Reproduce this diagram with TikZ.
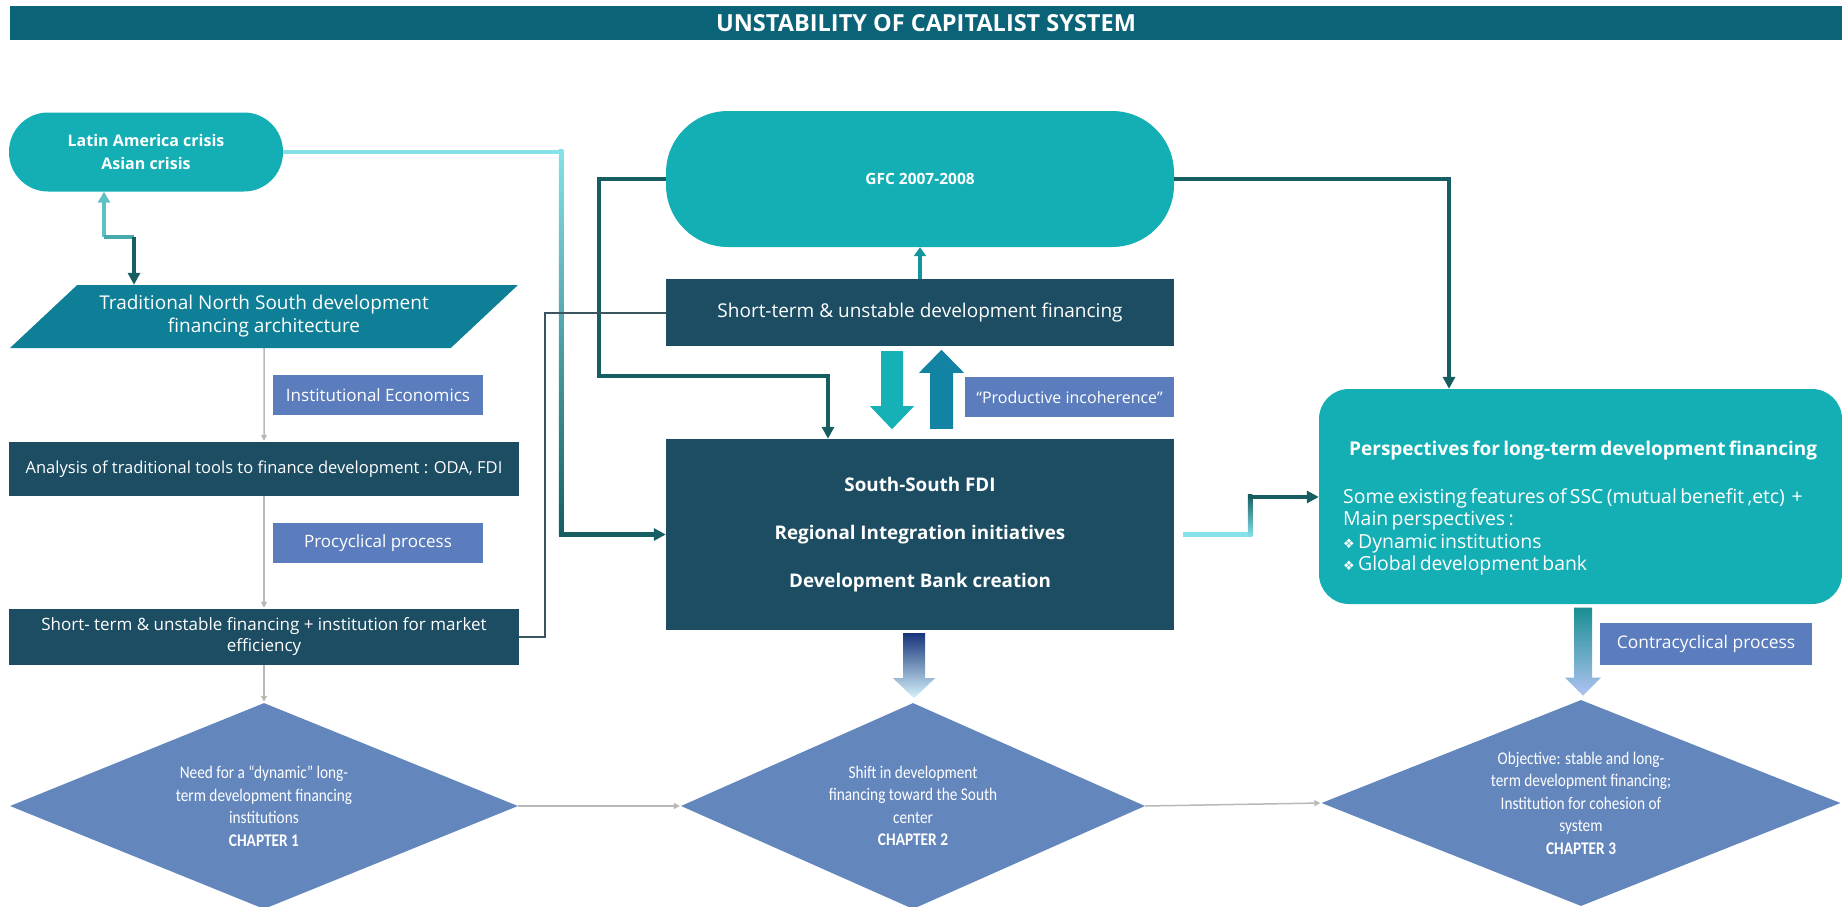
\documentclass[tikz,border=0pt]{standalone}
\usepackage{fontspec}
\setmainfont{Open Sans}
\newfontfamily\chapfont[FakeStretch=0.86]{Carlito}
\newfontfamily\bulletfont{DejaVu Sans}
\usetikzlibrary{calc,arrows.meta,positioning,shapes.geometric}

\definecolor{barteal}{HTML}{0B6377}
\definecolor{pillteal}{HTML}{14AFB5}
\definecolor{paradark}{HTML}{0F7E97}
\definecolor{navybox}{HTML}{1D4D63}
\definecolor{tagblue}{HTML}{5B7DBD}
\definecolor{chapblue}{HTML}{6386BD}
\definecolor{tealdark}{HTML}{175E63}
\definecolor{cyanlight}{HTML}{86E2E8}
\definecolor{cyanmid}{HTML}{45A9AE}
\definecolor{downcyan}{HTML}{15B1B7}
\definecolor{upblue}{HTML}{1283A2}
\definecolor{linegray}{HTML}{B8B8B8}
\definecolor{thingray}{HTML}{3A5560}
\definecolor{navygrad}{HTML}{17357A}
\definecolor{palegrad}{HTML}{D6F3FC}
\definecolor{tealgrad}{HTML}{1A8E93}
\definecolor{lilacgrad}{HTML}{AFC3F2}

\tikzset{
  pill/.style={fill=pillteal, text=white, align=center, inner sep=0pt, font=\fontsize{16}{23}\selectfont\bfseries},
  darkbox/.style={fill=navybox, text=white, align=center, inner sep=0pt, font=\fontsize{16.5}{21}\selectfont},
  tagbox/.style={fill=tagblue, text=white, align=center, inner sep=0pt, minimum width=210pt, minimum height=40pt, font=\fontsize{17}{20}\selectfont},
  chapter/.style={diamond, shape aspect=2.5, fill=chapblue, text=white, align=center, inner sep=0pt, minimum height=206pt, font=\chapfont\fontsize{17.8}{22.5}\selectfont},
  grayline/.style={draw=linegray, line width=1.5pt, shorten >=1pt, -{Triangle[length=6pt,width=6pt]}},
  darkline/.style={draw=tealdark, line width=4.5pt, -{Triangle[length=12pt,width=12pt]}},
  lightline/.style={draw=cyanlight, line width=4.5pt},
  thinline/.style={draw=thingray, line width=2pt},
}

\begin{document}
\begin{tikzpicture}[x=1pt,y=-1pt]
  \useasboundingbox (0,0) rectangle (1842,907);

  % Title
  \node[fill=barteal, minimum width=1832pt, minimum height=34pt, inner sep=0pt, text=white, font=\fontsize{23.5}{26}\selectfont\bfseries] (title) at (926,23) {UNSTABILITY OF CAPITALIST SYSTEM};

  % Left column
  \node[pill, minimum width=274pt, minimum height=79pt, rounded corners=39pt] (crisis) at (146,152) {Latin America crisis\\Asian crisis};
  \node[trapezium, trapezium left angle=32, trapezium right angle=148, trapezium stretches body=true, fill=paradark, text=white, align=center, inner sep=0pt, minimum width=508pt, minimum height=63pt, font=\fontsize{19}{23}\selectfont] (trad) at (264,316.5) {Traditional North South development\\financing architecture};
  \node[tagbox] (inst) at (378,395) {Institutional Economics};
  \node[darkbox, minimum width=510pt, minimum height=54pt] (tools) at (264,469) {Analysis of traditional tools to finance development : ODA, FDI};
  \node[tagbox] (procyc) at (378,543) {Procyclical process};
  \node[darkbox, minimum width=510pt, minimum height=56pt, font=\fontsize{17}{21}\selectfont] (shortleft) at (264,637) {Short- term \& unstable financing + institution for market\\efficiency};

  % Centre column
  \node[pill, minimum width=508pt, minimum height=136pt, rounded corners=62pt, font=\fontsize{15.5}{20}\selectfont\bfseries] (gfc) at (920,179) {GFC 2007-2008};
  \node[darkbox, minimum width=508pt, minimum height=67pt, font=\fontsize{19}{23}\selectfont] (shortc) at (920,312.5) {Short-term \& unstable development financing};
  \node[tagbox, minimum width=209pt, font=\fontsize{16}{19}\selectfont] (incoh) at (1069.5,397) {“Productive incoherence”};
  \node[darkbox, minimum width=508pt, minimum height=191pt, font=\fontsize{18.8}{48}\selectfont\bfseries] (ssouth) at (920,534.5) {South-South FDI\\Regional Integration initiatives\\Development Bank creation};

  % Right column
  \node[fill=pillteal, rounded corners=30pt, minimum width=523pt, minimum height=215pt] (persp) at (1580.5,496.5) {};
  \node[text=white, text width=480pt, align=left, anchor=north west, inner sep=0pt] (persptxt) at (1343,441) {%
    {\centering\fontsize{19}{22}\selectfont\bfseries Perspectives for long-term development financing\par}
    \vspace{25pt}
    {\fontsize{19.4}{22.5}\selectfont Some existing features of SSC (mutual benefit ,etc)~~+\\
    Main perspectives :\\
    {\bulletfont\fontsize{13}{22.5}\selectfont ❖}~Dynamic institutions\\
    {\bulletfont\fontsize{13}{22.5}\selectfont ❖}~Global development bank\par}};
  \node[tagbox, minimum width=212pt, minimum height=42pt, font=\fontsize{17.4}{20}\selectfont] (contra) at (1706,644) {Contracyclical process};

  % Chapters
  \node[chapter, minimum width=508pt] (ch1) at (264,806) {Need for a “dynamic” long-\\term development financing\\institutions\\\textbf{CHAPTER 1}};
  \node[chapter, minimum width=464pt] (ch2) at (913,806) {Shift in development\\financing toward the South\\center\\\textbf{CHAPTER 2}};
  \node[chapter, minimum width=519pt] (ch3) at (1581,803) {Objective: stable and long-\\term development financing;\\Institution for cohesion of\\system\\\textbf{CHAPTER 3}};

  % Grey flow
  \draw[grayline] (trad.south) -- (tools.north);
  \draw[grayline] (tools.south) -- (shortleft.north);
  \draw[grayline] (shortleft.south) -- (ch1.north);
  \draw[grayline] (ch1.east) -- (ch2.west);
  \draw[grayline] (ch2.east) -- (ch3.west);

  % Crisis <-> traditional architecture
  \coordinate (k1) at (104,237);
  \coordinate (k2) at (134,237);
  \draw[lightline, draw=cyanmid!60!cyanlight, -{Triangle[length=11pt,width=12pt]}] (k1) -- (k1 |- crisis.south);
  \draw[lightline, draw=cyanmid] (k1) -- (k2);
  \draw[darkline] (k2) -- (k2 |- trad.north);

  % Crisis -> South-South
  \coordinate (l1) at (561,152);
  \coordinate (l2) at (561,534.5);
  \draw[lightline] (crisis.east) -- (l1);
  \shade[top color=cyanlight, bottom color=tealdark] ($(l1)+(-2.25,-2.25)$) rectangle ($(l2)+(2.25,0)$);
  \draw[darkline] ($(l2)+(-2.25,0)$) -- (l2 -| ssouth.west);

  % GFC connectors
  \coordinate (g1) at (599,376);
  \coordinate (g2) at (828,376);
  \draw[darkline] (gfc.west) -| (g1) -- (g2) -- (g2 |- ssouth.north);
  \coordinate (g3) at (1449,179);
  \draw[darkline] (gfc.east) -- (g3) -- (g3 |- persp.north);
  \draw[draw=downcyan!85!black, line width=4pt, -{Triangle[length=9pt,width=12pt]}] (shortc.north) -- (gfc.south);

  % Short-term (left) -> short-term (centre)
  \coordinate (t1) at (545,470);
  \draw[thinline] (shortleft.east) -| (t1) |- (shortc.west);

  % South-South -> perspectives
  \coordinate (p1) at (1250,534.5);
  \coordinate (p2) at (1250,497);
  \draw[lightline, shorten <=9pt] (ssouth.east) -- ($(p1)+(2.25,0)$);
  \shade[top color=tealdark, bottom color=cyanlight] ($(p2)+(-2.25,-2.25)$) rectangle ($(p1)+(2.25,2.25)$);
  \draw[darkline] ($(p2)+(-2.25,0)$) -- (p2 -| persp.west);

  % Block arrows
  \fill[downcyan] ($(shortc.south)+(-39,5)$) -- ++(22,0) -- ++(0,55) -- ++(11,0) -- ++(-22,23) -- ++(-22,-23) -- ++(11,0) -- cycle;
  \fill[upblue] ($(ssouth.north)+(10,-10)$) -- ++(23,0) -- ++(0,-56) -- ++(11,0) -- ++(-22.5,-23) -- ++(-22.5,23) -- ++(11,0) -- cycle;
  \shade[top color=navygrad, bottom color=palegrad] ($(ssouth.south)+(-17,3)$) -- ++(22,0) -- ++(0,45) -- ++(10,0) -- ++(-21,20) -- ++(-21,-20) -- ++(10,0) -- cycle;
  \shade[top color=tealgrad, bottom color=lilacgrad] ($(persp.south)+(-6.5,3.5)$) -- ++(18,0) -- ++(0,70) -- ++(9,0) -- ++(-18,18) -- ++(-18,-18) -- ++(9,0) -- cycle;
\end{tikzpicture}
\end{document}
